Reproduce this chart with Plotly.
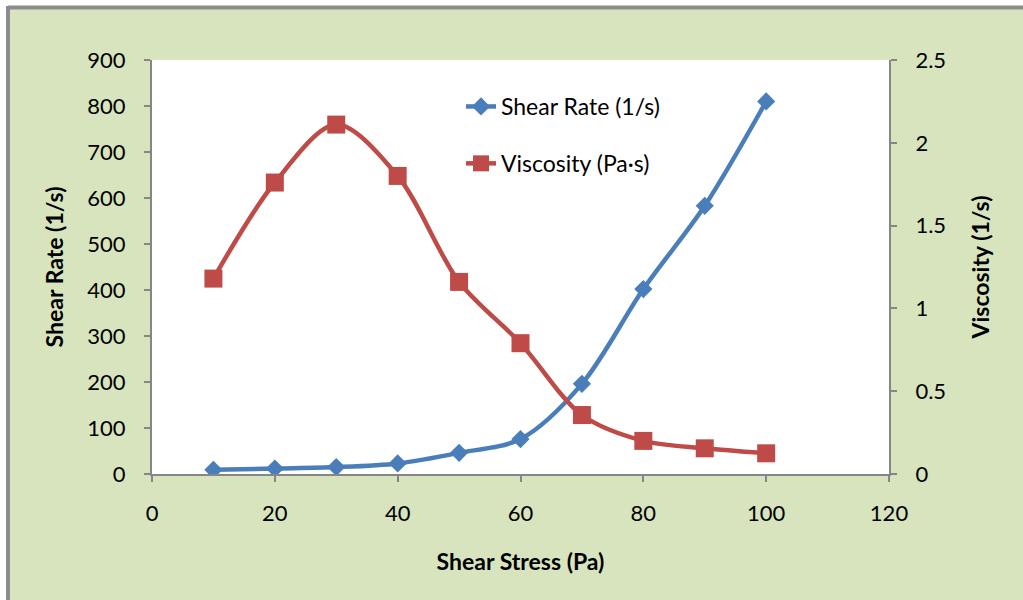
import plotly.graph_objects as go

# Rheology measurements
shear_stress = [10, 20, 30, 40, 50, 60, 70, 80, 90, 100]          # Pa
shear_rate = [9, 12, 15, 23, 46, 76, 196, 402, 583, 810]           # 1/s
viscosity = [1.18, 1.76, 2.11, 1.80, 1.16, 0.79, 0.356, 0.20, 0.155, 0.125]  # Pa·s

x_ticks = [0, 20, 40, 60, 80, 100, 120]
left_ticks = [0, 100, 200, 300, 400, 500, 600, 700, 800, 900]
right_ticks = [0, 0.5, 1, 1.5, 2, 2.5]

BLUE = "#4A7EBB"
RED = "#BE4B48"
GREEN_BG = "#D7E4BD"
AXIS_GRAY = "#868686"
FONT = "Lato"

fig = go.Figure()

fig.add_trace(go.Scatter(
    x=shear_stress, y=shear_rate, name="Shear Rate (1/s)",
    mode="lines+markers", legendgroup="a",
    line=dict(color=BLUE, width=4.5, shape="spline", smoothing=0.9),
    marker=dict(symbol="diamond", size=14, color=BLUE),
))
fig.add_trace(go.Scatter(
    x=shear_stress, y=viscosity, name="Viscosity (Pa·s)",
    mode="lines+markers", legendgroup="b", yaxis="y2",
    line=dict(color=RED, width=4.5, shape="spline", smoothing=0.9),
    marker=dict(symbol="square", size=18, color=RED),
))

# plot area geometry in pixels (used to place the frame decoration)
W, H = 1023, 600
L, R, T, B = 152, 134, 60, 126
pw, ph = W - L - R, H - T - B

def px_x(v):
    return (v - L) / pw

def px_y(v):
    return (H - B - v) / ph

shapes = [
    # white outer margin around the chart frame
    dict(type="rect", xref="paper", yref="paper", layer="below",
         x0=px_x(-10), x1=px_x(W + 10), y0=px_y(-10), y1=px_y(6),
         fillcolor="white", line_width=0),
    dict(type="rect", xref="paper", yref="paper", layer="below",
         x0=px_x(-10), x1=px_x(6), y0=px_y(H + 10), y1=px_y(-10),
         fillcolor="white", line_width=0),
    # gray frame edges
    dict(type="line", xref="paper", yref="paper",
         x0=px_x(8), x1=px_x(W + 10), y0=px_y(7.5), y1=px_y(7.5),
         line=dict(color="#8C8C8C", width=4)),
    dict(type="line", xref="paper", yref="paper",
         x0=px_x(8), x1=px_x(8), y0=px_y(6), y1=px_y(H + 10),
         line=dict(color="#8C8C8C", width=4)),
]

axis_common = dict(
    showgrid=False, zeroline=False, showline=True,
    linecolor=AXIS_GRAY, linewidth=2,
    ticks="outside", ticklen=6, tickcolor=AXIS_GRAY, tickwidth=2,
    tickfont=dict(family=FONT, size=22, color="black"),
)

fig.update_layout(
    width=W, height=H,
    margin=dict(l=L, r=R, t=T, b=B, autoexpand=False),
    paper_bgcolor=GREEN_BG,
    plot_bgcolor="white",
    font=dict(family=FONT, color="black"),
    shapes=shapes,
    xaxis=dict(
        range=[0, 120], tickvals=x_ticks, **axis_common,
        ticklabelstandoff=13,
        title=dict(text="<b>Shear Stress (Pa)</b>", standoff=28,
                   font=dict(family=FONT, size=23)),
    ),
    yaxis=dict(
        range=[0, 900], tickvals=left_ticks, **axis_common,
        ticklabelstandoff=14,
        title=dict(text="<b>Shear Rate (1/s)</b>", standoff=17,
                   font=dict(family=FONT, size=23)),
    ),
    yaxis2=dict(
        range=[0, 2.5], tickvals=right_ticks, overlaying="y", side="right",
        **axis_common,
        ticklabelstandoff=14,
        title=dict(text="<b>Viscosity (1/s)</b>", standoff=28,
                   font=dict(family=FONT, size=23)),
    ),
    legend=dict(
        x=px_x(461), y=px_y(85), xanchor="left", yanchor="top",
        bgcolor="rgba(0,0,0,0)", tracegroupgap=24,
        font=dict(family=FONT, size=23, color="black"),
    ),
)

fig.write_html("out.html")
